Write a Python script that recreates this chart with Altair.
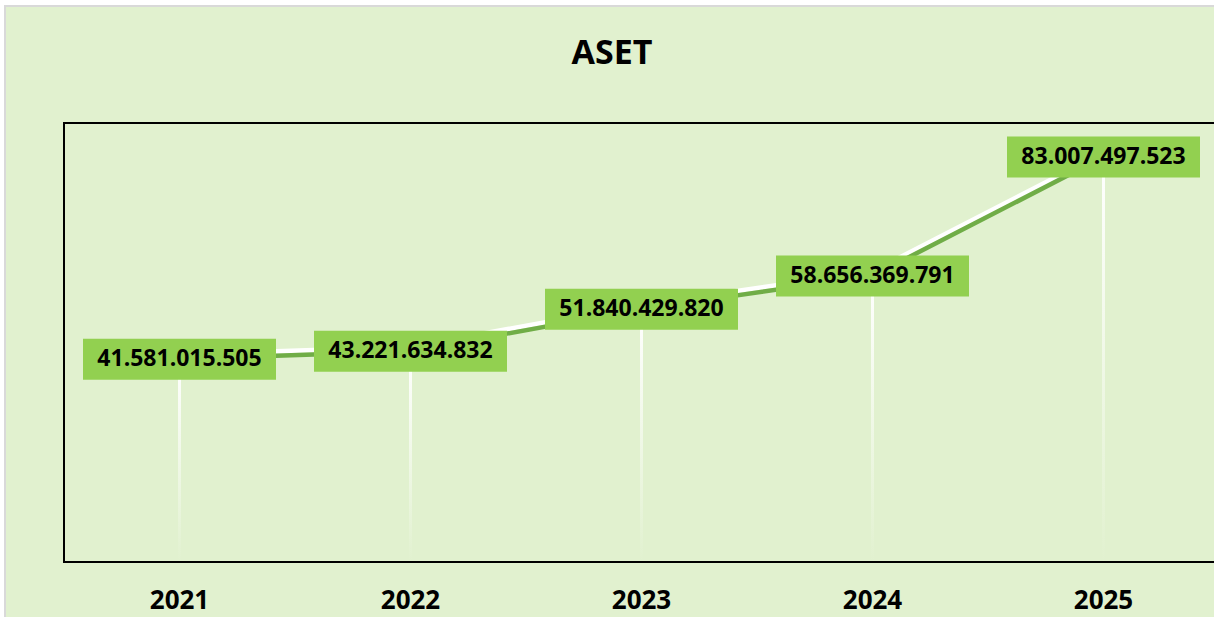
import altair as alt
import pandas as pd

years = ["2021", "2022", "2023", "2024", "2025"]
values = [41581015505, 43221634832, 51840429820, 58656369791, 83007497523]
labels = [f"{v:,}".replace(",", ".") for v in values]
title_text = "ASET"

df = pd.DataFrame({"year": years, "value": values, "label": labels})

BG = "#E1F1CF"
W, H = 1150, 439

xenc = alt.X("year:N", sort=years,
             scale=alt.Scale(type="band", paddingInner=0, paddingOuter=0, range=[0, 1155]),
             axis=alt.Axis(title=None, domain=False, ticks=False, labelAngle=0, zindex=2,
                           labelFont="Open Sans", labelFontSize=26, labelFontWeight="bold",
                           labelColor="black", labelPadding=25, grid=False))
yenc = alt.Y("value:Q", scale=alt.Scale(domain=[0, 90e9]), axis=None)

one = pd.DataFrame({"a": [0]})

bg = alt.Chart(one).mark_rect(fill=BG, stroke="#D9D9D9", strokeWidth=2).encode(
    x=alt.value(-59), x2=alt.value(1400), y=alt.value(-117), y2=alt.value(700))

border = alt.Chart(one).mark_rect(fillOpacity=0, stroke="black", strokeWidth=2).encode(
    x=alt.value(0), x2=alt.value(1175), y=alt.value(0), y2=alt.value(H))

title = alt.Chart(one).mark_text(font="Open Sans", fontSize=34, fontWeight="bold",
                                 color="black", align="center",
                                 baseline="middle").encode(
    x=alt.value(548), y=alt.value(-69), text=alt.value(title_text))

base = alt.Chart(df)

drops = base.mark_bar(width=3, color={
    "gradient": "linear", "x1": 0, "x2": 0, "y1": 0, "y2": 1,
    "stops": [{"offset": 0, "color": "#ffffff"}, {"offset": 1, "color": BG}]}).encode(x=xenc, y=yenc)

shadow = base.mark_line(color="white", strokeWidth=4.5, yOffset=-4.5).encode(x=xenc, y=yenc)
line = base.mark_line(color="#70AD47", strokeWidth=4.5).encode(x=xenc, y=yenc)

boxes = base.mark_point(shape="M-1,-0.2124L1,-0.2124L1,0.2124L-1,0.2124Z", size=193 * 193,
                        filled=True, fill="#92D050", opacity=1, strokeWidth=0).encode(x=xenc, y=yenc)

texts = base.mark_text(font="Open Sans", fontSize=23, fontWeight="bold", color="black",
                       align="center", baseline="middle").encode(x=xenc, y=yenc, text="label:N")

chart = alt.layer(bg, drops, shadow, line, boxes, texts, border, title).properties(
    width=W, height=H,
    autosize=alt.AutoSizeParams(type="none"),
    padding={"left": 64, "top": 123, "right": 0, "bottom": 55},
    background="white",
).configure_view(strokeWidth=0)

chart.save("out.html", embed_options={"renderer": "svg", "actions": False})
